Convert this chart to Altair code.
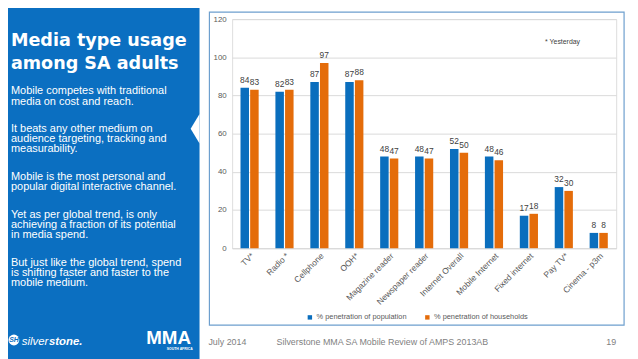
import altair as alt
import pandas as pd

categories = ["TV*", "Radio *", "Cellphone", "OOH*", "Magazine reader", "Newspaper reader",
              "Internet Overall", "Mobile Internet", "Fixed internet", "Pay TV*", "Cinema - p3m"]
population = [84, 82, 87, 87, 48, 48, 52, 48, 17, 32, 8]
households = [83, 83, 97, 88, 47, 47, 50, 46, 18, 30, 8]
series_names = ["% penetration of population", "% penetration of households"]
series_colors = ["#0a6ebd", "#e46c0a"]
y_ticks = [0, 20, 40, 60, 80, 100, 120]

title_lines = ["Media type usage", "among SA adults"]
paragraphs = [
    ["Mobile competes with traditional", "media on cost and reach."],
    ["It beats any other medium on", "audience targeting, tracking and", "measurability."],
    ["Mobile is the most personal and", "popular digital interactive channel."],
    ["Yet as per global trend, is only", "achieving a fraction of its potential", "in media spend."],
    ["But just like the global trend,  spend", "is shifting faster and faster to the", "mobile medium."],
]
footer_date = "July 2014"
footer_text = "Silverstone MMA SA Mobile Review of AMPS 2013AB"
footer_page = "19"
note_text = "* Yesterday"

rows = []
for c, p, h in zip(categories, population, households):
    rows.append({"category": c, "series": series_names[0], "value": p})
    rows.append({"category": c, "series": series_names[1], "value": h})
df = pd.DataFrame(rows)

FONT = "Liberation Sans"
PANEL = "#0b6fc1"

x_enc = alt.X("category:N", sort=categories,
              scale=alt.Scale(paddingInner=0.48, paddingOuter=0.24),
              axis=alt.Axis(title=None, labelAngle=-45, labelFontSize=8.5, labelColor="#595959",
                            labelFont=FONT, ticks=False, domainColor="#d9d9d9", labelPadding=3,
                            labelAlign="right", labelBaseline="top"))
xoff_enc = alt.XOffset("series:N", sort=series_names, scale=alt.Scale(paddingInner=0.12))
y_enc = alt.Y("value:Q", scale=alt.Scale(domain=[0, 120]),
              axis=alt.Axis(title=None, values=y_ticks, domain=False, ticks=False,
                            gridColor="#d9d9d9", labelFontSize=8, labelColor="#595959",
                            labelFont=FONT, labelPadding=6))

one = pd.DataFrame({"d": [0]})

# background panel and chart frame
panel = alt.Chart(one).mark_rect(fill=PANEL, strokeWidth=0).encode(
    x=alt.value(-235), x2=alt.value(-33), y=alt.value(-17), y2=alt.value(345))
frame = alt.Chart(one).mark_rect(fill="transparent", stroke="#6d9fce", strokeWidth=1.2).encode(
    x=alt.value(-23), x2=alt.value(397), y=alt.value(-7), y2=alt.value(310))
notch = alt.Chart(one).mark_point(shape="M 0.6 -1 L 0 0 L 0.6 1 Z", filled=True, fill="white",
                                  opacity=1, strokeWidth=0, size=900).encode(
    x=alt.value(-42), y=alt.value(111))

bars = alt.Chart(df).mark_bar().encode(
    x=x_enc, xOffset=xoff_enc, y=y_enc,
    color=alt.Color("series:N", sort=series_names,
                    scale=alt.Scale(domain=series_names, range=series_colors),
                    legend=alt.Legend(title=None, orient="none", legendX=75, legendY=298,
                                      direction="horizontal", symbolType="square", symbolSize=20,
                                      symbolStrokeWidth=0, labelFontSize=7.5, labelColor="#595959",
                                      labelFont=FONT, columnPadding=17, labelOffset=3)))
values = alt.Chart(df).mark_text(baseline="bottom", dy=-3, fontSize=8.5, color="#404040",
                                 font=FONT).encode(
    x=x_enc, xOffset=xoff_enc, y=y_enc, text="value:Q")


def text_layer(txt, x, y, size, color, weight="normal", align="left", font=FONT, style="normal",
               line_height=10):
    return alt.Chart(one).mark_text(align=align, baseline="alphabetic", fontSize=size, color=color,
                                    fontWeight=weight, font=font, fontStyle=style,
                                    lineHeight=line_height).encode(
        x=alt.value(x), y=alt.value(y), text=alt.value(txt))


layers = [panel, frame, notch, bars, values]
layers.append(text_layer(title_lines, -224, 27.5, 17.8, "white", weight="bold",
                         font="DejaVu Sans", line_height=23.5))
para_y = [76.3, 114.7, 163, 201.3, 249.7]
for lines, py in zip(paragraphs, para_y):
    layers.append(text_layer(lines, -224, py, 11.1, "white", line_height=10.2))
layers.append(text_layer(note_text, 317, 25.5, 7, "#404040"))
layers.append(text_layer(footer_date, -24, 330.5, 9, "#7f7f7f"))
layers.append(text_layer(footer_text, 45, 330.5, 9, "#7f7f7f"))
layers.append(text_layer(footer_page, 389, 330.5, 9, "#7f7f7f", align="right"))

# logos (as text)
logo_circle = alt.Chart(one).mark_point(shape="circle", filled=True, fill="white", opacity=1,
                                        strokeWidth=0, size=120).encode(
    x=alt.value(-221), y=alt.value(325))
layers.append(logo_circle)
layers.append(text_layer("SH", -221, 327.5, 7, PANEL, weight="bold", align="center", style="italic"))
layers.append(text_layer("silver", -213, 330, 11.5, "white", style="italic"))
layers.append(text_layer("stone.", -185.5, 330, 11.5, "white", weight="bold", style="italic"))
layers.append(text_layer("MMA", -87, 329.5, 19, "white", weight="bold"))
layers.append(text_layer("SOUTH AFRICA", -40, 335.5, 3.5, "white", weight="bold", align="right"))

chart = alt.layer(*layers).properties(
    width=389, height=232,
    padding={"left": 227, "top": 9, "right": 14, "bottom": 110},
    autosize=alt.AutoSizeParams(type="none"),
    background="white",
).configure_view(stroke=None).configure(font=FONT)

chart.save("out.html", embed_options={"renderer": "svg", "actions": False})
